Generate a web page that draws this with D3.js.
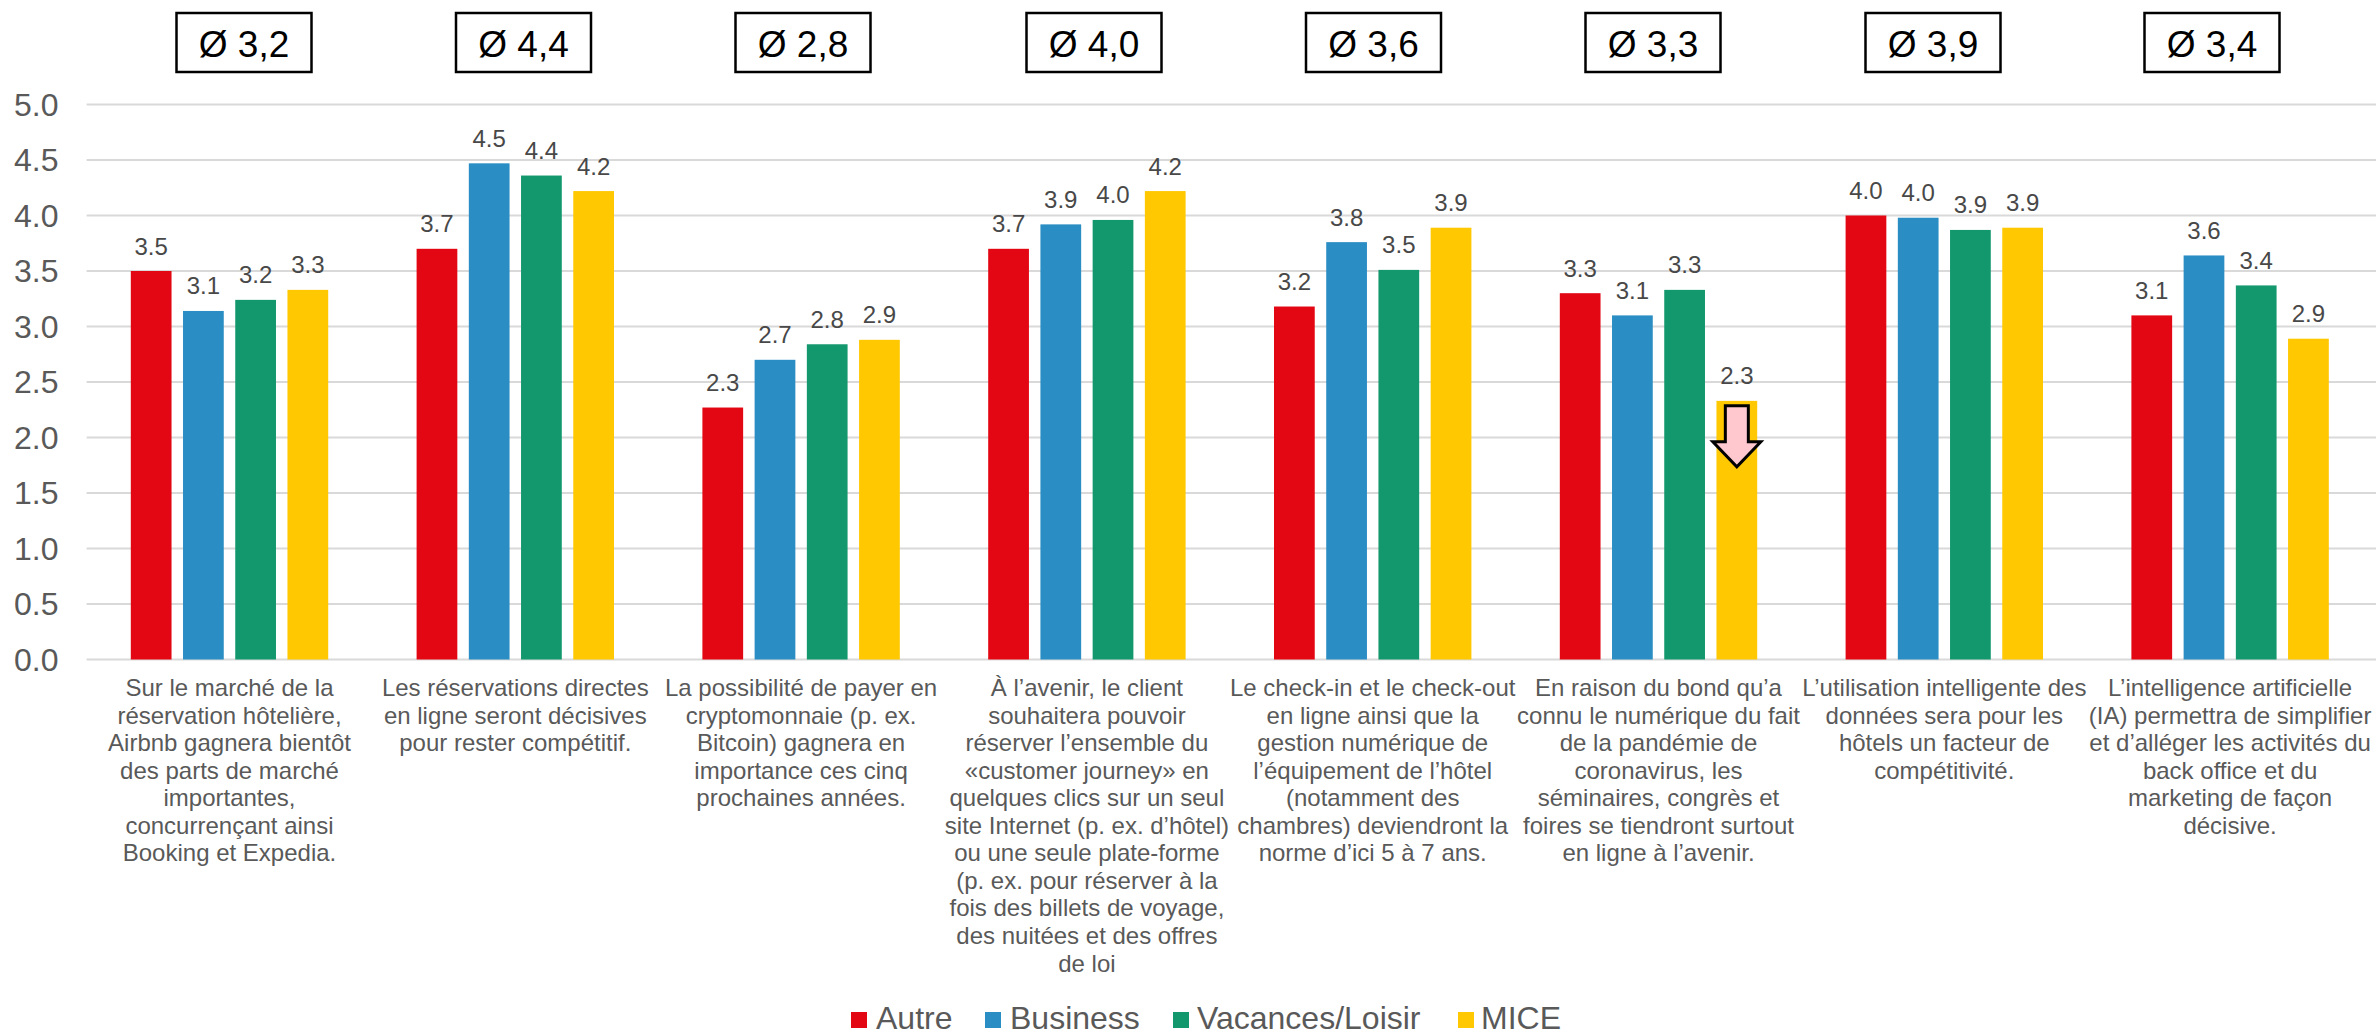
<!DOCTYPE html>
<html><head><meta charset="utf-8">
<script src="https://cdnjs.cloudflare.com/ajax/libs/d3/7.8.5/d3.min.js"></script>
<style>html,body{margin:0;padding:0;background:#fff}svg{display:block}text{font-family:"Liberation Sans",Arial,sans-serif}</style>
</head><body><div id="c"></div>
<script>
const seriesNames=["Autre","Business","Vacances/Loisir","MICE"];
const seriesColors=["#E30613","#2A8DC3","#13976D","#FFC800"];
const autre=[3.5,3.7,2.27,3.7,3.18,3.3,4.0,3.1];
const business=[3.14,4.47,2.7,3.92,3.76,3.1,3.98,3.64];
const vacances=[3.24,4.36,2.84,3.96,3.51,3.33,3.87,3.37];
const mice=[3.33,4.22,2.88,4.22,3.89,2.33,3.89,2.89];
const averages=["Ø 3,2","Ø 4,4","Ø 2,8","Ø 4,0","Ø 3,6","Ø 3,3","Ø 3,9","Ø 3,4"];
const yTicks=[0,0.5,1,1.5,2,2.5,3,3.5,4,4.5,5];
const categories=[
["Sur le marché de la","réservation hôtelière,","Airbnb gagnera bientôt","des parts de marché","importantes,","concurrençant ainsi","Booking et Expedia."],
["Les réservations directes","en ligne seront décisives","pour rester compétitif."],
["La possibilité de payer en","cryptomonnaie (p. ex.","Bitcoin) gagnera en","importance ces cinq","prochaines années."],
["À l’avenir, le client","souhaitera pouvoir","réserver l’ensemble du","«customer journey» en","quelques clics sur un seul","site Internet (p. ex. d’hôtel)","ou une seule plate-forme","(p. ex. pour réserver à la","fois des billets de voyage,","des nuitées et des offres","de loi"],
["Le check-in et le check-out","en ligne ainsi que la","gestion numérique de","l’équipement de l’hôtel","(notamment des","chambres) deviendront la","norme d’ici 5 à 7 ans."],
["En raison du bond qu’a","connu le numérique du fait","de la pandémie de","coronavirus, les","séminaires, congrès et","foires se tiendront surtout","en ligne à l’avenir."],
["L’utilisation intelligente des","données sera pour les","hôtels un facteur de","compétitivité."],
["L’intelligence artificielle","(IA) permettra de simplifier","et d’alléger les activités du","back office et du","marketing de façon","décisive."]
];
const series=[autre,business,vacances,mice];
const W=2376,H=1033;
const svg=d3.select("#c").append("svg").attr("width",W).attr("height",H);
const x0=d3.scaleBand().domain(d3.range(8)).range([86.6,2373]);
const x1=d3.scaleBand().domain(d3.range(4)).range([44.2,x0.bandwidth()-44.2]).paddingInner(0.22);
const y=d3.scaleLinear().domain([0,5]).range([659.5,104.5]);
const yAxis=d3.axisLeft(y).tickValues(yTicks).tickFormat(d3.format(".1f")).tickSize(0).tickPadding(0);
const gy=svg.append("g").attr("transform","translate(58.5,0)").call(yAxis);
gy.select(".domain").remove();
gy.selectAll("text").attr("font-size",32).attr("fill","#595959").attr("font-family",'"Liberation Sans"').attr("dy","0.33em").attr("x",0);
svg.append("g").selectAll("line").data(yTicks).join("line")
 .attr("x1",86.6).attr("x2",2376).attr("y1",d=>y(d)).attr("y2",d=>y(d))
 .attr("stroke","#D9D9D9").attr("stroke-width",2);
const groups=svg.append("g").selectAll("g").data(d3.range(8)).join("g").attr("transform",i=>`translate(${x0(i)},0)`);
series.forEach((vals,s)=>{
 groups.append("rect").attr("x",x1(s)).attr("width",x1.bandwidth())
  .attr("y",i=>y(vals[i])).attr("height",i=>y(0)-y(vals[i])).attr("fill",seriesColors[s]);
 groups.append("text").attr("x",x1(s)+x1.bandwidth()/2).attr("y",i=>y(vals[i])-16.5)
  .attr("text-anchor","middle").attr("font-size",24).attr("fill","#484848").text(i=>vals[i].toFixed(1));
});
groups.each(function(i){
 const g=d3.select(this);
 g.selectAll("text.cat").data(categories[i]).join("text").attr("class","cat")
  .attr("x",x0.bandwidth()/2).attr("y",(d,k)=>696+k*27.55)
  .attr("text-anchor","middle").attr("font-size",24).attr("fill","#595959").text(d=>d);
});
const boxCentres=[244,523.5,803,1094,1373.5,1653,1933,2212];
const boxes=svg.append("g").selectAll("g").data(averages).join("g").attr("transform",(d,i)=>`translate(${boxCentres[i]},0)`);
boxes.append("rect").attr("x",-67.5).attr("y",13).attr("width",135).attr("height",59).attr("fill","#fff").attr("stroke","#000").attr("stroke-width",2.5);
boxes.append("text").attr("text-anchor","middle").attr("y",57).attr("font-size",37).attr("fill","#000").text(d=>d);
const ax=x0(5)+x1(3)+x1.bandwidth()/2, ay=y(mice[5]);
const p=d3.path();
p.moveTo(ax-11.5,ay+5);p.lineTo(ax+11.5,ay+5);p.lineTo(ax+11.5,ay+41);p.lineTo(ax+24,ay+41);p.lineTo(ax,ay+66);p.lineTo(ax-24,ay+41);p.lineTo(ax-11.5,ay+41);p.closePath();
svg.append("path").attr("d",p.toString()).attr("fill","#FFC7CE").attr("stroke","#000").attr("stroke-width",3);
const legX=[851,985,1173,1458],legT=[876,1010,1197,1481];
const leg=svg.append("g").selectAll("g").data(seriesNames).join("g");
leg.append("rect").attr("x",(d,i)=>legX[i]).attr("y",1012).attr("width",16).attr("height",16).attr("fill",(d,i)=>seriesColors[i]);
leg.append("text").attr("x",(d,i)=>legT[i]).attr("y",1029).attr("font-size",32).attr("fill","#595959").text(d=>d);
</script></body></html>
